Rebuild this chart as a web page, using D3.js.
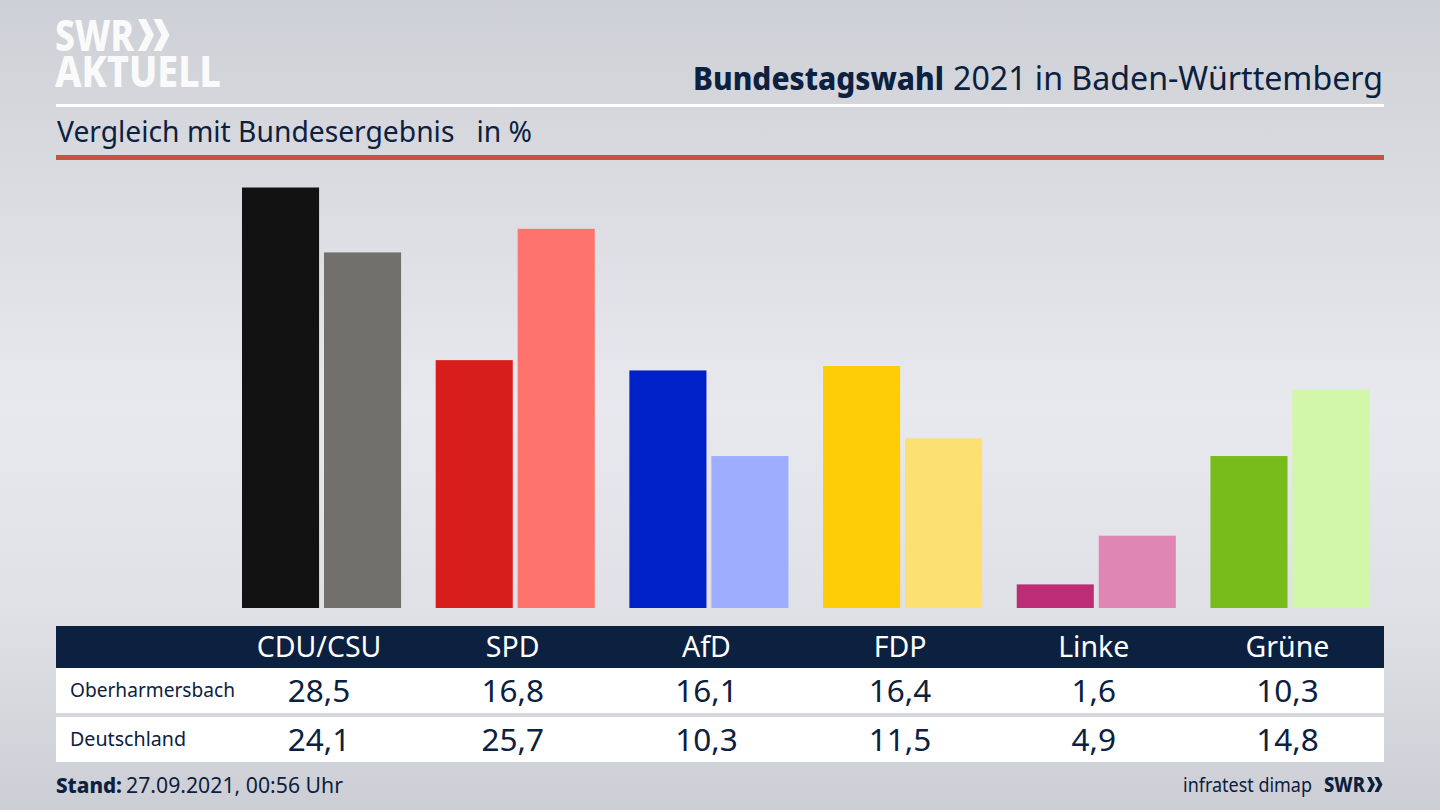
<!DOCTYPE html>
<html lang="de">
<head>
<meta charset="utf-8">
<title>Bundestagswahl 2021 in Baden-Württemberg</title>
<script src="https://cdn.jsdelivr.net/npm/d3@7"></script>
<style>
html,body{margin:0;padding:0;background:#d8dae0;overflow:hidden}
svg{display:block}
text{font-family:"Noto Sans","Open Sans",sans-serif;white-space:pre}
</style>
</head>
<body>
<svg id="chart" width="1440" height="810"></svg>
<script>
const parties = ["CDU/CSU","SPD","AfD","FDP","Linke","Grüne"];
const seriesNames = ["Oberharmersbach","Deutschland"];
const localValues = [28.5,16.8,16.1,16.4,1.6,10.3];
const nationalValues = [24.1,25.7,10.3,11.5,4.9,14.8];
const localColors = ["#121212","#d81e1c","#0020c8","#ffcc08","#bd2d76","#78bc1b"];
const nationalColors = ["#72706d","#ff736e","#9fadff","#fde072","#df86b5","#d2f7a8"];
const titleBold = "Bundestagswahl";
const titleRest = "2021 in Baden-Württemberg";
const subtitle = "Vergleich mit Bundesergebnis   in %";
const standLabel = "Stand:";
const standValue = "27.09.2021, 00:56 Uhr";
const sourceLabel = "infratest dimap";
const fmt = v => d3.format(".1f")(v).replace(".", ",");

const navy = "#0c2040";
const svg = d3.select("#chart");
const defs = svg.append("defs");
const grad = defs.append("linearGradient").attr("id","bg").attr("x1",0).attr("x2",0).attr("y1",0).attr("y2",1);
[[0,"#cdd0d6"],[0.2,"#d8dadf"],[0.5,"#e8e9ee"],[0.75,"#dfe1e6"],[1,"#ccced5"]].forEach(([o,c]) =>
  grad.append("stop").attr("offset",o).attr("stop-color",c));
svg.append("rect").attr("width",1440).attr("height",810).attr("fill","url(#bg)");

// scales
const x = d3.scaleBand().domain(parties).range([242,1369.5]).paddingInner(0.1787).paddingOuter(0);
const xInner = d3.scaleBand().domain(seriesNames).range([0,x.bandwidth()]).paddingInner(0.06);
const y = d3.scaleLinear().domain([0,28.5]).range([608,187.5]);

// helper: squeeze a text to the reference's measured width
const fit = (sel,w) => sel.attr("textLength",w).attr("lengthAdjust","spacingAndGlyphs");
const chev = (g,x0,y0,h,w,t,off) => [0,1].forEach(i => {
  const a = x0 + i*off;
  g.append("path").attr("d",`M${a},${y0}h${t}l${w},${h/2}l${-w},${h/2}h${-t}l${w},${-h/2}z`);
});

// logo
const logo = svg.append("g").attr("fill","#fafafa");
const logoText = logo.append("text").attr("font-weight",800);
fit(logoText.append("tspan").attr("x",55).attr("y",51).attr("font-size",42),79).text("SWR");
fit(logoText.append("tspan").attr("x",55).attr("y",87).attr("font-size",42),166).text("AKTUELL");
chev(logo,138,19,32,8,8,15.5);

// header
fit(svg.append("text").attr("x",693).attr("y",90).attr("font-size",32).attr("font-weight",800).attr("fill",navy),251).text(titleBold);
fit(svg.append("text").attr("x",953).attr("y",90).attr("font-size",32).attr("fill",navy),430).text(titleRest);
svg.append("rect").attr("x",56).attr("y",104).attr("width",1328).attr("height",3).attr("fill","#fff");
fit(svg.append("text").attr("x",57).attr("y",142).attr("font-size",29).attr("fill",navy),475).text(subtitle);
svg.append("rect").attr("x",56).attr("y",155).attr("width",1328).attr("height",5).attr("fill","#c9533f");

// bars
const rows = [localValues,nationalValues];
const colors = [localColors,nationalColors];
seriesNames.forEach((s,si) => {
  svg.append("g").selectAll("rect").data(parties).join("rect")
    .attr("x",p => x(p)+xInner(s))
    .attr("width",xInner.bandwidth())
    .attr("y",(p,i) => y(rows[si][i]))
    .attr("height",(p,i) => y(0)-y(rows[si][i]))
    .attr("fill",(p,i) => colors[si][i]);
});

// table
svg.append("rect").attr("x",56).attr("y",626).attr("width",1328).attr("height",42).attr("fill",navy);
svg.append("rect").attr("x",56).attr("y",668).attr("width",1328).attr("height",45).attr("fill","#fff");
svg.append("rect").attr("x",56).attr("y",717).attr("width",1328).attr("height",45).attr("fill","#fff");
const cx = p => x(p)+x.bandwidth()/2-2.5;
svg.append("g").selectAll("text").data(parties).join("text")
  .attr("x",cx).attr("y",657).attr("text-anchor","middle").attr("font-size",28.5).attr("fill","#fff").text(d=>d);
const rowY = [702,751], labelY = [697,746], labelW = [165,116];
seriesNames.forEach((s,si) => {
  fit(svg.append("text").attr("x",70).attr("y",labelY[si]).attr("font-size",20).attr("fill",navy),labelW[si]).text(s);
  svg.append("g").selectAll("text").data(parties).join("text")
    .attr("x",cx).attr("y",rowY[si]).attr("text-anchor","middle").attr("font-size",31.5).attr("fill",navy)
    .text((p,i) => fmt(rows[si][i]));
});

// footer
fit(svg.append("text").attr("x",56).attr("y",793).attr("font-size",22).attr("font-weight",800).attr("fill",navy),66).text(standLabel);
fit(svg.append("text").attr("x",126).attr("y",793).attr("font-size",22).attr("fill",navy),217).text(standValue);
fit(svg.append("text").attr("x",1183).attr("y",792).attr("font-size",20).attr("fill",navy),129).text(sourceLabel);
const foot = svg.append("g").attr("fill",navy);
fit(foot.append("text").attr("x",1324).attr("y",792).attr("font-size",21).attr("font-weight",800),41).text("SWR");
chev(foot,1367,777,15,4,4,7.5);
</script>
</body>
</html>
